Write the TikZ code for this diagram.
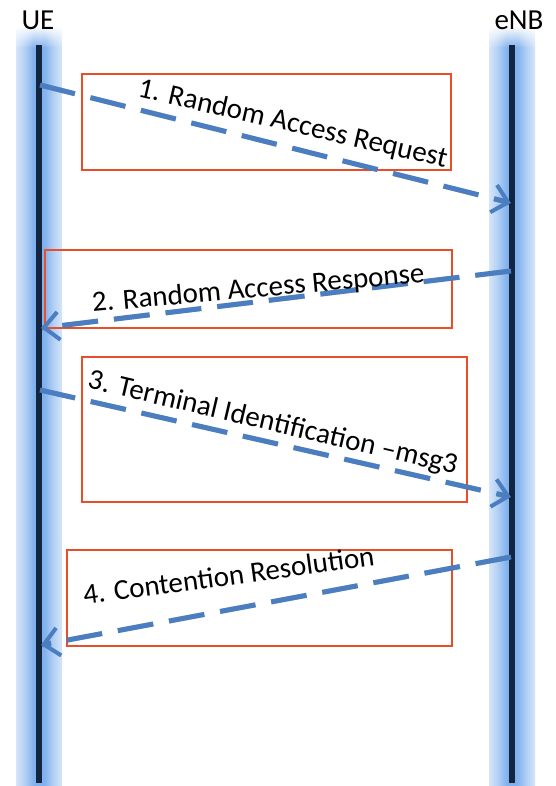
\documentclass[tikz,border=0pt]{standalone}
\usepackage{fontspec}
\setmainfont{Carlito}
\usetikzlibrary{arrows.meta,fadings}
\definecolor{glowblue}{RGB}{130,178,238}
\definecolor{lifedark}{RGB}{18,38,66}
\definecolor{msgblue}{RGB}{74,126,192}
\definecolor{boxred}{RGB}{232,78,40}
\pgfdeclarehorizontalshading{glowshade}{100bp}{color(0bp)=(white); color(18bp)=(glowblue!12); color(34bp)=(glowblue!60); color(44bp)=(glowblue); color(56bp)=(glowblue); color(66bp)=(glowblue!60); color(82bp)=(glowblue!12); color(100bp)=(white)}
\tikzfading[name=fadetop, top color=transparent!100, bottom color=transparent!0]
\tikzset{
  lbl/.style={font=\fontsize{29}{34}\selectfont, inner sep=0pt},
  msg/.style={draw=msgblue, line width=5pt, dash pattern=on 36pt off 16pt, -{Straight Barb[length=15pt,width=28pt,line width=4pt]}},
  msgshadow/.style={draw=black, opacity=0.22, line width=5pt, dash pattern=on 36pt off 16pt},
  msgbox/.style={draw=boxred, line width=1.5pt},
  lifeline/.style={draw=lifedark, line width=6pt}
}
\begin{document}
\begin{tikzpicture}[x=1pt,y=-1pt]
\useasboundingbox (0,0) rectangle (555,786);
\fill[white] (0,0) rectangle (555,786);
% glows
\shade[shading=glowshade, path fading=fadetop] (16,26) rectangle (62,48);
\shade[shading=glowshade] (16,48) rectangle (62,786);
\shade[shading=glowshade, path fading=fadetop] (489,26) rectangle (535,48);
\shade[shading=glowshade] (489,48) rectangle (535,786);
% lifelines
\coordinate (uetop) at (39,45);
\coordinate (uebot) at (39,783);
\coordinate (enbtop) at (512,45);
\coordinate (enbbot) at (512,783);
\draw[lifeline] (uetop) -- (uebot);
\draw[lifeline] (enbtop) -- (enbbot);
% headers
\node[lbl, anchor=base] (ue) at (38,30) {UE};
\node[lbl, anchor=base] (enb) at (519,30) {eNB};
% boxes
\draw[msgbox] (82,74) rectangle (451,170);
\draw[msgbox] (45,250) rectangle (452,328);
\draw[msgbox] (82,357) rectangle (467,502);
\draw[msgbox] (67,550) rectangle (452,646);
% message endpoints
\coordinate (m1s) at (40,85);
\coordinate (m1e) at (511,203);
\coordinate (m2s) at (511,271);
\coordinate (m2e) at (41,328);
\coordinate (m3s) at (40,390);
\coordinate (m3e) at (511,497);
\coordinate (m4s) at (511,557);
\coordinate (m4e) at (41,645);
% shadows
\begin{scope}[shift={(2,3)}]
\draw[msgshadow] (m1s) -- (m1e);
\draw[msgshadow] (m2s) -- (m2e);
\draw[msgshadow] (m3s) -- (m3e);
\draw[msgshadow] (m4s) -- (m4e);
\end{scope}
% messages
\draw[msg] (m1s) -- (m1e);
\draw[msg] (m2s) -- (m2e);
\draw[msg] (m3s) -- (m3e);
\draw[msg] (m4s) -- (m4e);
% labels
\node[lbl, anchor=base, rotate=-13] (t1) at (291,132) {1. Random Access Request};
\node[lbl, anchor=base, rotate=5.1] (t2) at (259,297) {2. Random Access Response};
\node[lbl, anchor=base, rotate=-13.2] (t3) at (271,431) {3. Terminal Identification –msg3};
\node[lbl, anchor=base, rotate=7.7] (t4) at (230,585) {4. Contention Resolution};
\end{tikzpicture}
\end{document}
